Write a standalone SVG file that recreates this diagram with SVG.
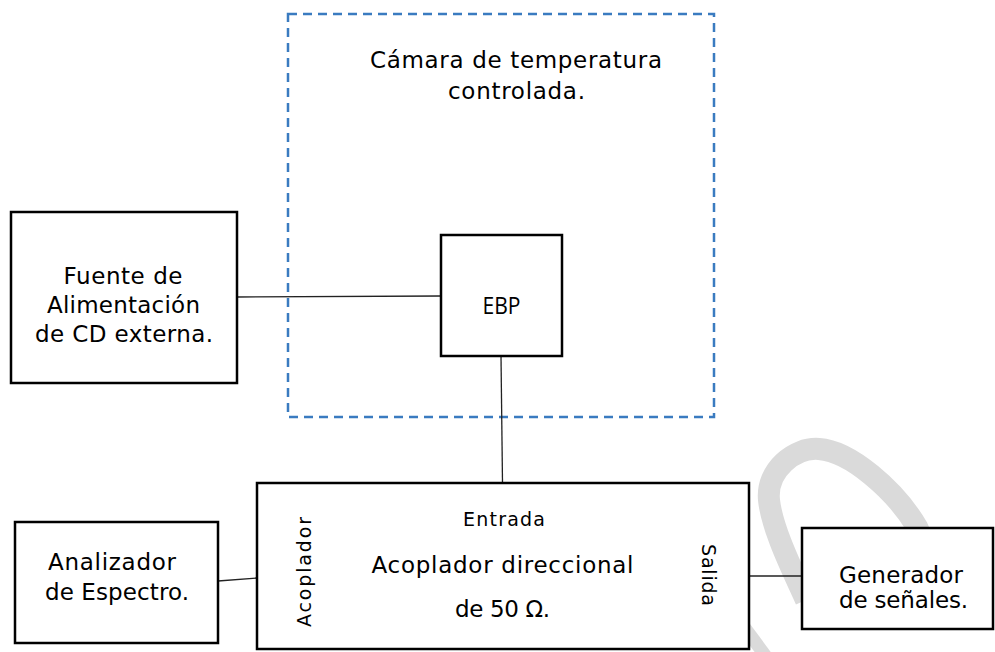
<svg xmlns="http://www.w3.org/2000/svg" width="995" height="652" viewBox="0 0 995 652">
<style>
.box{fill:#fff;stroke:#000;stroke-width:2.5}
.t{font-family:"DejaVu Sans",sans-serif;font-size:23px;fill:#000;text-anchor:middle}
.s{font-size:19px}
.c{stroke:#222;stroke-width:1.3;fill:none}
</style>
<rect width="995" height="652" fill="#fff"/>
<g id="watermark" fill="none" stroke="#dadada" stroke-width="22">
<path d="M806,600 C795,575 772,530 769,500 C766,470 795,447 819,449 C850,451 895,490 917,527 C925,545 935,565 940,590"/>
<line x1="745" y1="628" x2="770" y2="662" stroke-width="13"/>
</g>
<g id="camara">
<rect x="288" y="14" width="426" height="403" fill="none" stroke="#3a7bc0" stroke-width="2.5" stroke-dasharray="9 6"/>
<text class="t" x="516" y="68" textLength="292" lengthAdjust="spacing">Cámara de temperatura</text>
<text class="t" x="516.5" y="99" textLength="137" lengthAdjust="spacing">controlada.</text>
</g>
<g id="connectors">
<line class="c" x1="237" y1="297" x2="441" y2="296"/>
<line class="c" x1="501" y1="356" x2="502.5" y2="483"/>
<line class="c" x1="218" y1="581" x2="257" y2="578"/>
<line class="c" x1="749" y1="576" x2="802" y2="576"/>
</g>
<g id="fuente">
<rect class="box" x="11" y="212" width="226" height="171"/>
<text class="t" x="123" y="284" textLength="119" lengthAdjust="spacing">Fuente de</text>
<text class="t" x="123.5" y="313" textLength="153" lengthAdjust="spacing">Alimentación</text>
<text class="t" x="124" y="342" textLength="178" lengthAdjust="spacing">de CD externa.</text>
</g>
<g id="ebp">
<rect class="box" x="441" y="235" width="121" height="121"/>
<text x="501.5" y="314" font-family="'Open Sans',sans-serif" font-size="24" text-anchor="middle" textLength="38" lengthAdjust="spacingAndGlyphs">EBP</text>
</g>
<g id="acoplador">
<rect class="box" x="257" y="483" width="492" height="166"/>
<text class="t s" x="504" y="526" textLength="82" lengthAdjust="spacing">Entrada</text>
<text class="t" x="502.5" y="573" textLength="262" lengthAdjust="spacing">Acoplador direccional</text>
<text class="t" x="502.5" y="617" textLength="95" lengthAdjust="spacing">de 50 Ω.</text>
<text class="t s" transform="translate(311 572) rotate(-90)" textLength="110" lengthAdjust="spacing">Acoplador</text>
<text class="t s" transform="translate(702 575) rotate(90)" textLength="62" lengthAdjust="spacing">Salida</text>
</g>
<g id="analizador">
<rect class="box" x="15" y="522" width="203" height="121"/>
<text class="t" x="112" y="570" textLength="128" lengthAdjust="spacing">Analizador</text>
<text class="t" x="117" y="600" textLength="144" lengthAdjust="spacing">de Espectro.</text>
</g>
<g id="generador">
<rect class="box" x="802" y="528" width="191" height="101"/>
<text class="t" x="901" y="583" textLength="124" lengthAdjust="spacing">Generador</text>
<text class="t" x="903.5" y="608" textLength="129" lengthAdjust="spacing">de señales.</text>
</g>
</svg>
